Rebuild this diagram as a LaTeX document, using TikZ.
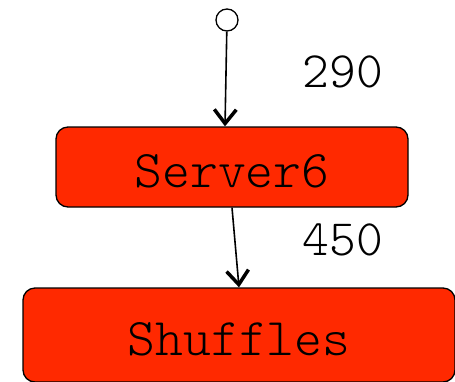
\documentclass[tikz,border=0pt]{standalone}
\usetikzlibrary{arrows.meta}
\definecolor{boxred}{RGB}{255,41,0}
\tikzset{
  box/.style={draw, fill=boxred, rounded corners=12pt, line width=1.3pt,
    font=\ttfamily\fontseries{l}\fontsize{53}{56}\selectfont, text height=40pt, text depth=0pt,
    inner sep=0pt},
  weight/.style={font=\ttfamily\fontseries{l}\fontsize{51}{56}\selectfont, anchor=base},
  flow/.style={line width=1.6pt, -{Straight Barb[length=14pt,width=22pt,line width=3.5pt]}}
}
\begin{document}
\begin{tikzpicture}[x=1pt,y=-1pt]
      \useasboundingbox (0,0) rectangle (455,381);
      \node[circle, draw, line width=1.3pt, minimum size=22pt, inner sep=0pt] (start) at (227,20) {};
      \node[box, minimum width=352pt, minimum height=80pt] (server6) at (232,167) {Server6};
      \node[box, minimum width=432pt, minimum height=94pt] (shuffles) at (239,335) {Shuffles};
      \node[weight] (w290) at (343,87) {290};
      \node[weight] (w450) at (343,255) {450};
      \begin{scope}[flow]
        \draw (start) to ([xshift=-7pt]server6.north);
        \draw (server6.south) to (shuffles.north);
      \end{scope}
    \end{tikzpicture}
\end{document}
